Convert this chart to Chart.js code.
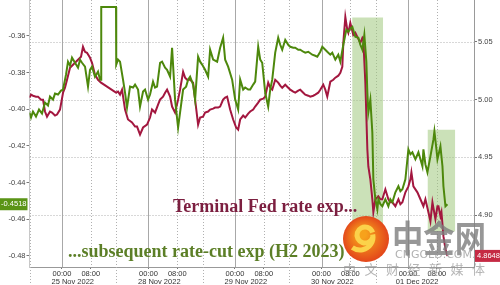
<!DOCTYPE html>
<html>
<head>
<meta charset="utf-8">
<script src="https://cdn.jsdelivr.net/npm/chart.js@4.4.0/dist/chart.umd.min.js"></script>
<style>
html, body { margin: 0; padding: 0; background: #fff; }
#wrap { width: 500px; height: 285px; position: relative; }
</style>
</head>
<body>
<div id="wrap"><canvas id="chart"></canvas></div>
<script>
// x = trading hours since 24 Nov 15:00 (weekend squeezed out)
var greenTimes = [0, 0.42, 0.97, 1.80, 2.64, 3.47, 4.30, 5.13, 5.69, 6.52, 7.08, 7.91, 8.74, 9.30, 10.13, 10.68, 11.24, 11.79, 12.63, 13.46, 14.01, 14.57, 15.40, 16.23, 16.79, 17.34, 18.17, 19.01, 19.56, 19.84, 19.90, 24.00, 24.06, 24.56, 25.11, 25.94, 26.50, 27.05, 27.89, 28.72, 29.28, 30.11, 30.66, 31.50, 32.05, 32.89, 33.44, 34.27, 34.83, 35.38, 36.22, 36.77, 37.61, 38.16, 39.00, 39.55, 40.38, 41.22, 41.77, 42.61, 43.44, 44.00, 44.55, 45.38, 45.94, 46.77, 47.33, 47.88, 48.71, 49.55, 50.10, 50.94, 52.05, 52.88, 53.71, 54.27, 55.10, 56.21, 57.05, 57.88, 58.44, 59.27, 59.83, 60.66, 61.22, 62.05, 62.60, 63.44, 64.00, 64.55, 65.38, 66.21, 66.77, 67.33, 68.16, 68.99, 69.55, 70.10, 70.94, 71.77, 72.33, 73.16, 73.71, 74.55, 75.10, 75.94, 76.49, 77.33, 78.44, 79.27, 79.83, 80.66, 81.22, 82.05, 82.60, 83.44, 83.99, 84.83, 85.66, 86.22, 87.05, 87.88, 88.44, 88.99, 89.55, 90.38, 91.22, 91.77, 92.33, 92.88, 93.44, 93.72, 93.99, 94.55, 95.10, 95.38, 95.94, 96.49, 96.77, 97.33, 97.88, 98.71, 99.55, 100.10, 100.66, 101.49, 102.33, 102.88, 103.44, 104.27, 105.10, 105.66, 106.21, 107.05, 107.88, 108.44, 108.99, 109.27, 109.82, 110.38, 111.21, 112.05, 112.32, 112.88, 113.16, 113.99, 114.55, 114.82, 115.38, 115.93];
var greenValues = [-0.4018, -0.4045, -0.4013, -0.4040, -0.4002, -0.4024, -0.3964, -0.3980, -0.3931, -0.3948, -0.3915, -0.3920, -0.3899, -0.3893, -0.3812, -0.3741, -0.3763, -0.3719, -0.3747, -0.3774, -0.3730, -0.3747, -0.3768, -0.3877, -0.3785, -0.3768, -0.3823, -0.3795, -0.3839, -0.3839, -0.3443, -0.3443, -0.3757, -0.3730, -0.3741, -0.3839, -0.3910, -0.3991, -0.3877, -0.3882, -0.3866, -0.3893, -0.3986, -0.3904, -0.3893, -0.3948, -0.3920, -0.3850, -0.3882, -0.3877, -0.3747, -0.3741, -0.3774, -0.3785, -0.3823, -0.3665, -0.3948, -0.4100, -0.4018, -0.3893, -0.3877, -0.3839, -0.3823, -0.3866, -0.3948, -0.3714, -0.3741, -0.3757, -0.3785, -0.3823, -0.3676, -0.3730, -0.3741, -0.3665, -0.3611, -0.3730, -0.3768, -0.3839, -0.3948, -0.4002, -0.3839, -0.3893, -0.3882, -0.3893, -0.3893, -0.3866, -0.3850, -0.3660, -0.3730, -0.3747, -0.3910, -0.3986, -0.3893, -0.3839, -0.3692, -0.3611, -0.3649, -0.3676, -0.3622, -0.3649, -0.3660, -0.3665, -0.3665, -0.3676, -0.3676, -0.3687, -0.3692, -0.3687, -0.3703, -0.3709, -0.3714, -0.3687, -0.3660, -0.3676, -0.3687, -0.3703, -0.3692, -0.3730, -0.3703, -0.3741, -0.3649, -0.3567, -0.3578, -0.3562, -0.3551, -0.3605, -0.3611, -0.3649, -0.3676, -0.3595, -0.3741, -0.3910, -0.4018, -0.3948, -0.4127, -0.4382, -0.4491, -0.4545, -0.4491, -0.4518, -0.4529, -0.4491, -0.4529, -0.4491, -0.4507, -0.4453, -0.4420, -0.4447, -0.4436, -0.4382, -0.4219, -0.4246, -0.4235, -0.4273, -0.4235, -0.4273, -0.4311, -0.4219, -0.4300, -0.4344, -0.4257, -0.4165, -0.4121, -0.4219, -0.4273, -0.4203, -0.4311, -0.4420, -0.4529, -0.4518];

var redTimes = [0, 0.42, 0.97, 1.80, 2.36, 3.19, 3.75, 4.30, 4.86, 5.69, 6.24, 7.08, 7.63, 8.46, 9.30, 9.85, 10.41, 11.24, 12.07, 12.90, 13.46, 14.29, 14.84, 15.40, 15.95, 16.79, 17.34, 18.17, 19.01, 19.84, 24.00, 24.56, 25.11, 25.67, 26.50, 27.33, 28.44, 29.28, 29.83, 30.66, 31.50, 32.60, 33.44, 33.99, 34.83, 35.66, 36.22, 37.04, 37.61, 38.16, 39.00, 39.55, 40.38, 41.22, 41.77, 42.61, 43.16, 43.72, 44.55, 45.38, 45.94, 46.77, 47.33, 48.14, 48.71, 49.55, 50.10, 50.94, 51.49, 52.33, 52.88, 53.71, 54.27, 54.82, 55.65, 56.49, 57.32, 57.88, 58.44, 59.27, 59.83, 60.66, 61.22, 62.05, 62.60, 63.44, 64.00, 64.83, 65.38, 66.21, 66.77, 67.33, 68.16, 68.99, 69.55, 70.10, 70.94, 71.77, 72.33, 73.16, 73.71, 74.55, 75.10, 75.94, 76.49, 77.33, 77.88, 78.71, 79.27, 80.10, 80.66, 81.49, 82.05, 82.60, 83.44, 84.27, 84.83, 85.66, 86.22, 86.77, 87.05, 87.61, 88.16, 88.44, 88.99, 89.82, 90.38, 90.94, 91.77, 92.33, 92.60, 93.16, 93.72, 93.99, 94.55, 95.10, 95.38, 95.94, 96.77, 97.33, 97.88, 98.71, 99.55, 100.10, 100.66, 101.49, 102.33, 102.88, 103.44, 104.27, 105.10, 105.66, 105.94, 106.49, 107.05, 107.60, 108.44, 109.27, 109.82, 110.66, 111.21, 111.77, 112.60, 113.16, 113.44, 113.99, 114.27, 114.82, 115.38, 115.93];
var redValues = [5.0017, 5.0043, 5.0034, 5.0026, 5.0026, 5.0000, 5.0000, 4.9897, 4.9853, 4.9897, 4.9888, 4.9862, 4.9871, 4.9914, 5.0060, 5.0103, 5.0172, 5.0276, 5.0302, 5.0328, 5.0345, 5.0371, 5.0457, 5.0414, 5.0405, 5.0362, 5.0319, 5.0216, 5.0172, 5.0147, 5.0060, 5.0069, 5.0043, 5.0086, 4.9914, 4.9828, 4.9802, 4.9767, 4.9767, 4.9698, 4.9759, 4.9784, 4.9845, 4.9914, 4.9888, 4.9957, 5.0000, 5.0026, 5.0060, 5.0086, 5.0026, 4.9940, 4.9888, 5.0000, 5.0086, 5.0241, 5.0190, 5.0172, 5.0172, 5.0147, 5.0000, 4.9784, 4.9845, 4.9853, 4.9888, 4.9897, 4.9914, 4.9922, 4.9931, 4.9931, 4.9940, 5.0000, 5.0017, 5.0026, 4.9914, 4.9828, 4.9759, 4.9741, 4.9828, 4.9862, 4.9845, 4.9879, 4.9897, 4.9914, 4.9940, 4.9974, 5.0000, 5.0009, 5.0026, 5.0147, 5.0103, 5.0086, 5.0172, 5.0147, 5.0121, 5.0103, 5.0129, 5.0103, 5.0086, 5.0069, 5.0060, 5.0078, 5.0086, 5.0060, 5.0043, 5.0034, 5.0026, 5.0034, 5.0043, 5.0060, 5.0086, 5.0129, 5.0086, 5.0026, 5.0155, 5.0172, 5.0190, 5.0207, 5.0233, 5.0284, 5.0491, 5.0715, 5.0603, 5.0578, 5.0664, 5.0560, 5.0578, 5.0543, 5.0491, 5.0534, 5.0517, 5.0147, 4.9569, 4.9422, 4.9310, 4.9138, 4.9026, 4.9138, 4.9164, 4.9138, 4.9138, 4.9224, 4.9138, 4.9112, 4.9112, 4.9078, 4.9138, 4.9095, 4.9112, 4.9198, 4.9250, 4.9310, 4.9371, 4.9250, 4.9224, 4.9198, 4.9138, 4.9078, 4.9138, 4.9026, 4.8948, 4.9112, 4.8966, 4.9078, 4.9078, 4.8991, 4.9026, 4.8819, 4.8707, 4.8648];

var hourTicks = [9, 17, 33, 41, 57, 65, 81, 89, 105, 113];
var hourLabels = ['00:00', '08:00', '00:00', '08:00', '00:00', '08:00', '00:00', '08:00', '00:00', '08:00'];
var dayTicks = [12, 36, 60, 84, 107.5];
var dayLabels = ['25 Nov 2022', '28 Nov 2022', '29 Nov 2022', '30 Nov 2022', '01 Dec 2022'];
var midnightLines = [9, 33, 57, 81, 105];
var morningLines = [17, 41, 65, 89, 113];
var sessionBreaks = [0, 24, 48, 72, 96];
var leftTicks = [-0.36, -0.38, -0.40, -0.42, -0.44, -0.46, -0.48];
var rightTicks = [5.05, 5.00, 4.95, 4.90];

// shaded boxes on the right axis: [start, end], top value, shared bottom
var boxTimes = [[89.5, 98.1], [110.4, 118.1]];
var boxTops = [5.071, 4.974];
var boxBottom = 4.886;

var greenColor = '#4d880c';
var redColor = '#a3173f';

function pairs(xs, ys) {
    return xs.map((x, i) => ({x: x, y: ys[i]}));
}

const datasets = [
    {
        label: 'subsequent rate-cut exp (H2 2023)',
        data: pairs(greenTimes, greenValues),
        yAxisID: 'y',
        borderColor: greenColor,
        borderWidth: 2,
        pointRadius: 0,
        fill: false
    },
    {
        label: 'Terminal Fed rate exp',
        data: pairs(redTimes, redValues),
        yAxisID: 'y2',
        borderColor: redColor,
        borderWidth: 2,
        pointRadius: 0,
        fill: false
    }
];
boxTimes.forEach((b, i) => {
    datasets.push({
        label: 'box' + i,
        data: [{x: b[0], y: boxTops[i]}, {x: b[1], y: boxTops[i]}],
        yAxisID: 'y2',
        borderWidth: 0,
        pointRadius: 0,
        backgroundColor: 'rgba(160, 200, 125, 0.55)',
        fill: {value: boxBottom}
    });
});

const tickFont = {family: 'Liberation Sans', size: 7.5};

function noPad(s) {
    s.paddingTop = 0;
    s.paddingBottom = 0;
    s.paddingLeft = 0;
    s.paddingRight = 0;
}

const decorations = {
    id: 'decorations',
    beforeDatasetsDraw(chart) {
        const {ctx, chartArea: a, scales} = chart;
        ctx.save();
        ctx.lineWidth = 1;
        ctx.strokeStyle = '#b0b0b0';
        ctx.setLineDash([1, 2]);
        rightTicks.forEach(v => {
            const y = Math.round(scales.y2.getPixelForValue(v)) + 0.5;
            ctx.beginPath(); ctx.moveTo(a.left, y); ctx.lineTo(a.right, y); ctx.stroke();
        });
        morningLines.forEach(t => {
            const x = Math.round(scales.x.getPixelForValue(t)) + 0.5;
            ctx.beginPath(); ctx.moveTo(x, a.top); ctx.lineTo(x, a.bottom); ctx.stroke();
        });
        sessionBreaks.forEach(t => {
            const x = Math.round(scales.x.getPixelForValue(t)) + 0.5;
            ctx.beginPath(); ctx.moveTo(x, a.top); ctx.lineTo(x, chart.height); ctx.stroke();
        });
        ctx.setLineDash([]);
        ctx.strokeStyle = '#a8a8a8';
        midnightLines.forEach(t => {
            const x = Math.round(scales.x.getPixelForValue(t)) + 0.5;
            ctx.beginPath(); ctx.moveTo(x, a.top); ctx.lineTo(x, a.bottom); ctx.stroke();
        });
        ctx.restore();
    },
    afterDraw(chart) {
        const {ctx, chartArea: a, scales} = chart;
        ctx.save();
        // annotations
        ctx.font = 'bold 18px "Liberation Serif"';
        ctx.textBaseline = 'alphabetic';
        ctx.fillStyle = '#7c1f40';
        ctx.fillText('Terminal Fed rate exp...', 173, 212);
        ctx.fillStyle = '#5c7f27';
        ctx.fillText('...subsequent rate-cut exp (H2 2023)', 68, 257);

        // watermark
        const g = ctx.createRadialGradient(362, 234, 4, 366, 239, 24);
        g.addColorStop(0, '#f7a21b');
        g.addColorStop(1, '#e2421b');
        ctx.fillStyle = g;
        ctx.beginPath(); ctx.arc(366, 239, 23, 0, Math.PI * 2); ctx.fill();
        ctx.strokeStyle = '#fbd24a';
        ctx.lineWidth = 5;
        ctx.beginPath(); ctx.arc(365, 235, 8, Math.PI * 0.1, Math.PI * 1.9); ctx.stroke();
        ctx.beginPath(); ctx.arc(360, 237, 13, -0.2, Math.PI * 0.7); ctx.stroke();
        ctx.fillStyle = 'rgba(125, 125, 125, 0.8)';
        ctx.font = 'bold 36px "Noto Sans CJK SC"';
        ctx.textBaseline = 'alphabetic';
        ctx.fillText('中金网', 392, 252, 94);
        ctx.fillStyle = 'rgba(150, 150, 150, 0.75)';
        ctx.font = '11px "DejaVu Sans"';
        ctx.fillText('CNGOLD.COM.CN', 395, 258, 100);
        ctx.fillStyle = 'rgba(150, 150, 150, 0.7)';
        ctx.font = '13px "Noto Sans CJK SC"';
        '中文财经新媒体'.split('').forEach((c, i) => ctx.fillText(c, 343 + i * 21.5, 274));

        // last value tags
        ctx.font = '7.5px "Liberation Sans"';
        ctx.textBaseline = 'middle';
        const gy = scales.y.getPixelForValue(greenValues[greenValues.length - 1]);
        ctx.fillStyle = '#5a9416';
        ctx.fillRect(0, gy - 6, a.left - 2, 12);
        ctx.fillStyle = '#fff';
        ctx.textAlign = 'right';
        ctx.fillText(greenValues[greenValues.length - 1].toFixed(4), a.left - 3, gy);
        const ry = scales.y2.getPixelForValue(redValues[redValues.length - 1]);
        ctx.fillStyle = '#c52a44';
        ctx.fillRect(a.right + 1, ry - 6, chart.width - a.right, 12);
        ctx.fillStyle = '#fff';
        ctx.textAlign = 'left';
        ctx.fillText(redValues[redValues.length - 1].toFixed(4), a.right + 3, ry);
        ctx.restore();
    }
};

new Chart(document.getElementById('chart'), {
    type: 'line',
    data: {datasets: datasets},
    options: {
        responsive: true,
        maintainAspectRatio: false,
        animation: false,
        layout: {padding: 0},
        plugins: {legend: {display: false}, tooltip: {enabled: false}},
        scales: {
            x: {
                type: 'linear',
                position: 'bottom',
                min: 0,
                max: 123.3,
                afterBuildTicks: s => { s.ticks = hourTicks.map(v => ({value: v})); },
                afterFit: s => { s.height = 10; noPad(s); },
                ticks: {
                    autoSkip: false, maxRotation: 0, padding: 0, color: '#333', font: tickFont,
                    callback: (v, i) => hourLabels[i]
                },
                grid: {drawOnChartArea: false, tickLength: 2, color: '#777'},
                border: {color: '#999'}
            },
            xDate: {
                type: 'linear',
                position: 'bottom',
                min: 0,
                max: 123.3,
                afterBuildTicks: s => { s.ticks = dayTicks.map(v => ({value: v})); },
                afterFit: s => { s.height = 8; noPad(s); },
                ticks: {
                    autoSkip: false, maxRotation: 0, padding: 0, color: '#333', font: tickFont,
                    callback: (v, i) => dayLabels[i]
                },
                grid: {display: false, drawTicks: false, tickLength: 0},
                border: {display: false}
            },
            y: {
                position: 'left',
                min: -0.486,
                max: -0.3405,
                afterBuildTicks: s => { s.ticks = leftTicks.map(v => ({value: v})); },
                afterFit: s => { s.width = 29.5; noPad(s); },
                ticks: {padding: 1, color: '#444', font: tickFont, callback: v => v.toFixed(2)},
                grid: {drawOnChartArea: false, tickLength: 3, color: '#777'},
                border: {color: '#c8c8c8'}
            },
            y2: {
                position: 'right',
                min: 4.8552,
                max: 5.0862,
                afterBuildTicks: s => { s.ticks = rightTicks.map(v => ({value: v})); },
                afterFit: s => { s.width = 26; noPad(s); },
                ticks: {padding: 1, color: '#444', font: tickFont, callback: v => v.toFixed(2)},
                grid: {drawOnChartArea: false, tickLength: 3, color: '#777'},
                border: {color: '#999'}
            }
        }
    },
    plugins: [decorations]
});
</script>
</body>
</html>
